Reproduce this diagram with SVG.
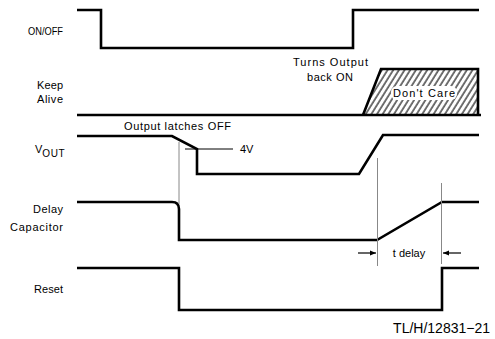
<svg xmlns="http://www.w3.org/2000/svg" width="495" height="339" viewBox="0 0 495 339">
<style>
.sig{fill:none;stroke:#000;stroke-width:2.6;stroke-linejoin:miter;stroke-linecap:butt}
.thin{fill:none;stroke:#888;stroke-width:1}
.lbl{font-family:"Liberation Sans",Arial,sans-serif;font-size:11px;fill:#000}
.r{text-anchor:end}
.c{text-anchor:middle}
</style>
<defs>
<pattern id="hatch" width="4.8" height="10" patternUnits="userSpaceOnUse" patternTransform="rotate(32)">
<line x1="1" y1="0" x2="1" y2="10" stroke="#000" stroke-width="1.1"/>
</pattern>
<marker id="ah" viewBox="0 0 10 10" refX="10" refY="5" markerWidth="8" markerHeight="6" orient="auto" markerUnits="userSpaceOnUse">
<path d="M0,1 L10,5 L0,9 Z" fill="#000"/>
</marker>
</defs>
<g id="labels">
<text class="lbl r" x="63" y="35" textLength="35" lengthAdjust="spacingAndGlyphs">ON/OFF</text>
<text class="lbl r" x="63" y="89" textLength="26">Keep</text>
<text class="lbl r" x="63" y="103" textLength="26">Alive</text>
<text class="lbl" x="35" y="153">V<tspan font-size="10" dy="4" letter-spacing="0.6">OUT</tspan></text>
<text class="lbl r" x="63" y="213" textLength="30">Delay</text>
<text class="lbl r" x="63" y="231" textLength="53">Capacitor</text>
<text class="lbl r" x="63" y="293" textLength="29">Reset</text>
</g>
<g id="onoff">
<path class="sig" d="M77,10 H101 V48 H353 V10 H479"/>
</g>
<g id="keepalive">
<polygon points="363,115 381,69 478,69 478,115" fill="url(#hatch)"/>
<rect x="391" y="86" width="66" height="14" rx="6" fill="#fff"/>
<path class="sig" d="M77,115 H481"/>
<path class="sig" d="M363,115 L381,69 H478 V115"/>
<text class="lbl" x="393" y="97" textLength="62">Don't Care</text>
<text class="lbl" x="293" y="66" textLength="75">Turns Output</text>
<text class="lbl" x="307" y="81" textLength="46">back ON</text>
</g>
<g id="vout">
<path class="sig" d="M77,136 H172 L197,149 V174 H359 L383,135 H479"/>
<text class="lbl" x="124" y="130" textLength="107">Output latches OFF</text>
<line x1="185" y1="149" x2="233" y2="149" stroke="#000" stroke-width="1"/>
<text class="lbl" x="240" y="153">4V</text>
</g>
<g id="delaycap">
<path class="sig" d="M77,202 H172 Q179,202 179,209 V240 H377 L442,202 H479"/>
</g>
<g id="reset">
<path class="sig" d="M77,268 H179 V310 H442 V268 H479"/>
</g>
<g id="connectors">
<line class="thin" x1="179" y1="142" x2="179" y2="204"/>
<line class="thin" x1="377.5" y1="158" x2="377.5" y2="266"/>
<line class="thin" x1="441.5" y1="183" x2="441.5" y2="264"/>
<line x1="358" y1="253" x2="376" y2="253" stroke="#000" stroke-width="1.2" marker-end="url(#ah)"/>
<line x1="461" y1="253" x2="443" y2="253" stroke="#000" stroke-width="1.2" marker-end="url(#ah)"/>
<text class="lbl c" x="409" y="257">t delay</text>
</g>
<text class="lbl r" x="490" y="333" style="font-size:14px">TL/H/12831−21</text>
</svg>
